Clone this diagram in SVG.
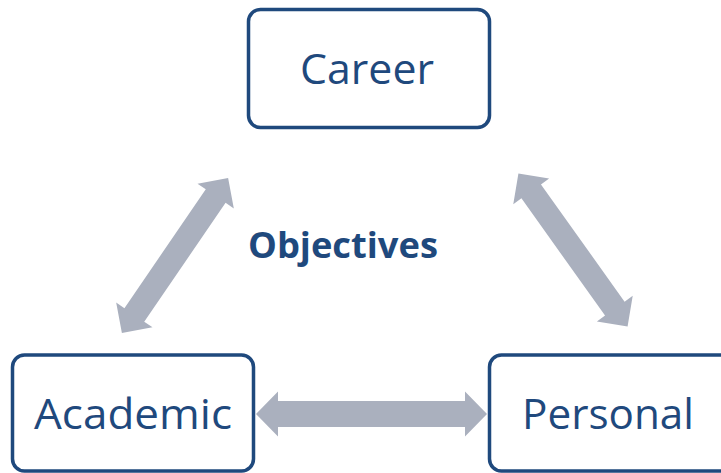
<svg xmlns="http://www.w3.org/2000/svg" width="721" height="473" viewBox="0 0 721 473">
<style>
.box{fill:#fff;stroke:#1f497d;stroke-width:3.5}
.lbl{font-family:"Open Sans","Liberation Sans",sans-serif;font-size:42px;fill:#1f497d;text-anchor:middle}
.arr{fill:#aab0be}
.title{font-family:"Open Sans","Liberation Sans",sans-serif;font-size:35px;font-weight:bold;fill:#1f497d;text-anchor:middle}
</style>
<defs>
<path id="dbl" d="M-94,0 L-72,-22 L-72,-12 L72,-12 L72,-22 L94,0 L72,22 L72,12 L-72,12 L-72,22 Z"/>
</defs>
<rect width="721" height="473" fill="#fff"/>
<g id="connectors">
<polygon class="arr" points="256,414 278,391.5 278,401 465,401 465,391.5 487,414 465,436.5 465,427 278,427 278,436.5"/>
<use href="#dbl" class="arr" transform="translate(175,255.5) rotate(124.4)"/>
<use href="#dbl" class="arr" transform="translate(573,250) rotate(54.5)"/>
</g>
<g id="career">
<rect class="box" x="248.5" y="9.5" width="241" height="118" rx="12"/>
<text class="lbl" x="367" y="84" textLength="134" lengthAdjust="spacingAndGlyphs">Career</text>
</g>
<g id="academic">
<rect class="box" x="12.5" y="355" width="241" height="116" rx="12"/>
<text class="lbl" x="133" y="429" textLength="198" lengthAdjust="spacingAndGlyphs">Academic</text>
</g>
<g id="personal">
<rect class="box" x="489.5" y="355" width="260" height="116" rx="12"/>
<text class="lbl" x="608" y="429" textLength="172" lengthAdjust="spacingAndGlyphs">Personal</text>
</g>
<g id="objectives">
<text class="title" x="343" y="258" textLength="190" lengthAdjust="spacingAndGlyphs">Objectives</text>
</g>
</svg>
